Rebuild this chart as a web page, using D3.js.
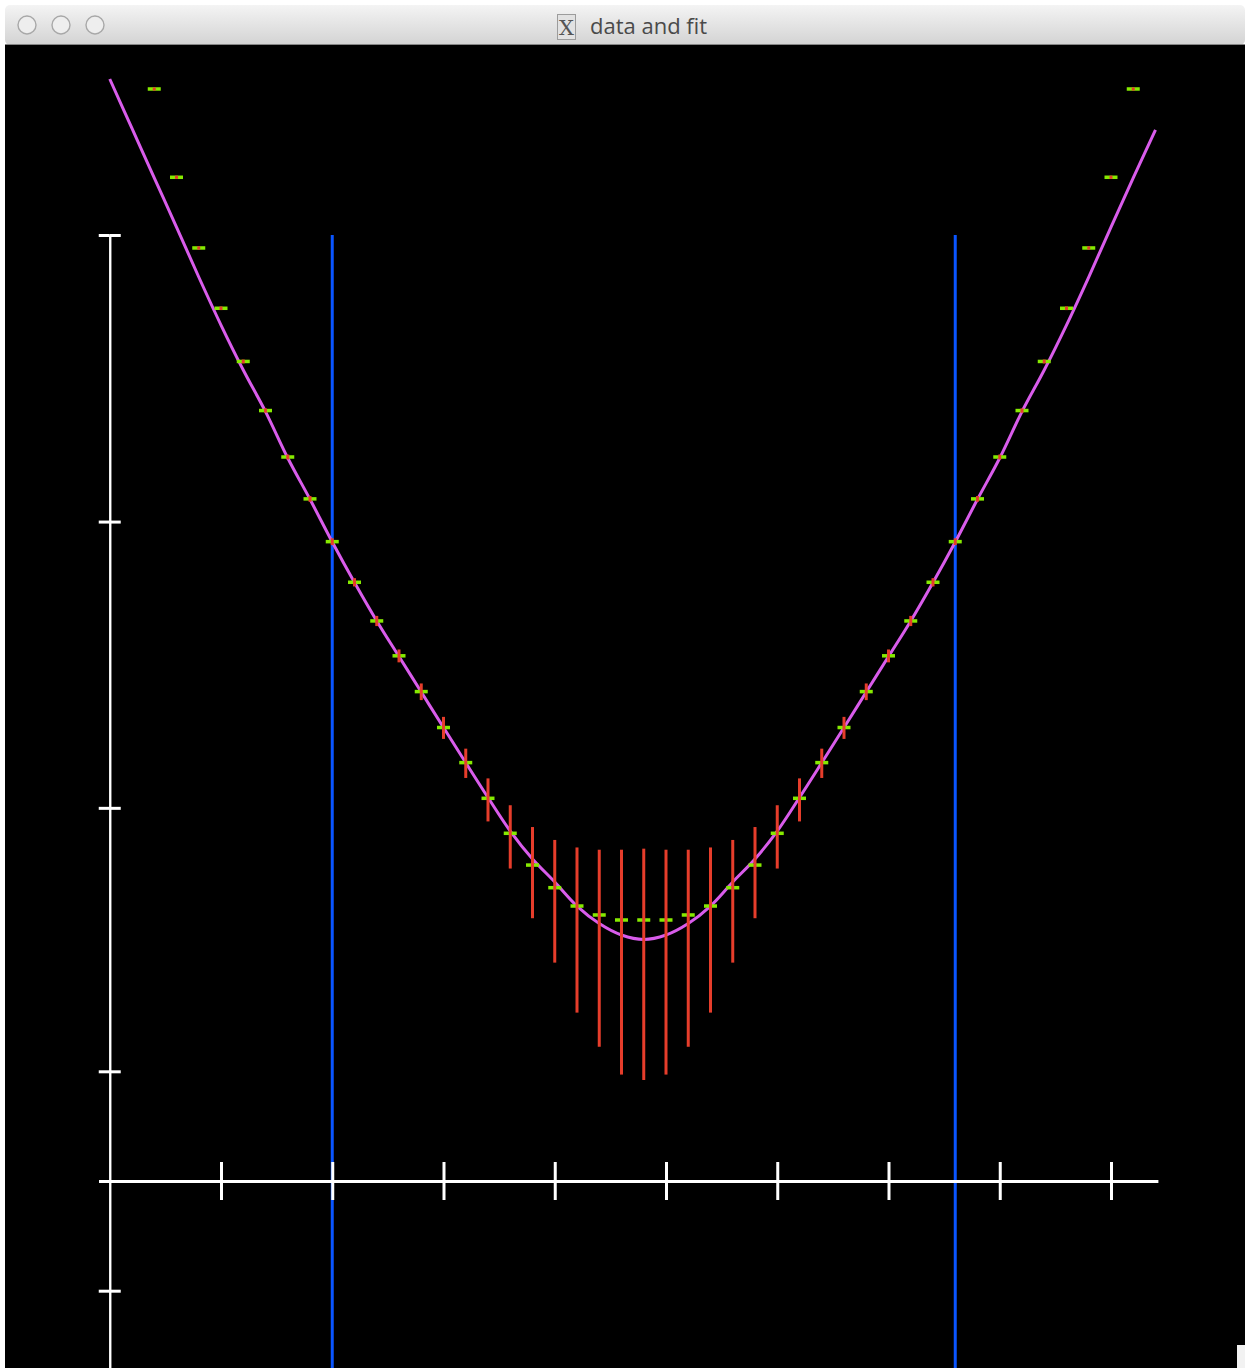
<!DOCTYPE html>
<html>
<head>
<meta charset="utf-8">
<title>data and fit</title>
<script src="https://cdn.jsdelivr.net/npm/d3@7"></script>
<style>
  html, body { margin: 0; padding: 0; background: #ffffff; }
  svg { display: block; }
</style>
</head>
<body>
<script>
// ---- measured data -------------------------------------------------------
const xData = [0.4, 0.6, 0.8, 1.0, 1.2, 1.4, 1.6, 1.8, 2.0, 2.2, 2.4, 2.6, 2.8, 3.0, 3.2,
               3.4, 3.6, 3.8, 4.0, 4.2, 4.4, 4.6, 4.8, 5.0, 5.2, 5.4, 5.6, 5.8, 6.0, 6.2,
               6.4, 6.6, 6.8, 7.0, 7.2, 7.4, 7.6, 7.8, 8.0, 8.2, 8.4, 8.6, 8.8, 9.0, 9.2];
const yData = [3232, 1590, 901, 555, 362, 244, 168, 120, 85.1, 61.4, 45.0, 34.0, 25.5, 19.1, 14.4,
               10.8, 8.14, 6.29, 5.23, 4.50, 4.18, 4.01, 4.01, 4.01, 4.18, 4.50, 5.23, 6.29, 8.14, 10.8,
               14.4, 19.1, 25.5, 34.0, 45.0, 61.4, 85.1, 120, 168, 244, 362, 555, 901, 1590, 3232];
const yErr  = [1.3, 1.3, 1.3, 1.3, 1.3, 1.3, 1.3, 1.3, 1.3, 1.3, 1.3, 1.35, 1.40, 1.46, 1.52,
               1.73, 1.95, 2.17, 2.39, 2.67, 2.86, 3.03, 3.09, 3.03, 2.86, 2.67, 2.39, 2.17, 1.95, 1.73,
               1.52, 1.46, 1.40, 1.35, 1.3, 1.3, 1.3, 1.3, 1.3, 1.3, 1.3, 1.3, 1.3, 1.3, 1.3];

// ---- fitted curve samples -----------------------------------------------
const fitX = [0.0, 0.2, 0.4, 0.6, 0.8, 1.0, 1.2, 1.4, 1.6, 1.8, 2.0, 2.2, 2.4, 2.6, 2.8, 3.0,
              3.2, 3.4, 3.6, 3.8, 4.0, 4.2, 4.4, 4.6, 4.8, 5.0, 5.2, 5.4, 5.6, 5.8, 6.0, 6.2,
              6.4, 6.6, 6.8, 7.0, 7.2, 7.4, 7.6, 7.8, 8.0, 8.2, 8.4, 8.6, 8.8, 9.0, 9.2, 9.4];
const fitY = [3502, 2355, 1583, 1066, 713.5, 485, 338, 242, 166.7, 119.6, 84.9, 61.3, 45.0, 33.8, 25.42, 19.1,
              14.39, 10.87, 8.29, 6.61, 5.48, 4.50, 3.895, 3.54, 3.41, 3.54, 3.895, 4.50, 5.48, 6.61, 8.29, 10.87,
              14.39, 19.1, 25.42, 33.8, 45.0, 61.3, 84.9, 119.6, 166.7, 242, 338, 485, 713.5, 1066, 1581, 2325];

// ---- boundary markers and axis ticks ------------------------------------
const markerX = [2.0, 7.6];
const xTicks = [1, 2, 3, 4, 5, 6, 7, 8, 9];
const yTicks = [-1, 1, 10, 100, 1000];
const windowTitle = "data and fit";

// ---- canvas -------------------------------------------------------------
const W = 1245, H = 1368;
const svg = d3.select("body").append("svg").attr("width", W).attr("height", H);
const defs = svg.append("defs");

const grad = defs.append("linearGradient").attr("id", "titleGrad")
  .attr("x1", 0).attr("y1", 0).attr("x2", 0).attr("y2", 1);
grad.append("stop").attr("offset", "0%").attr("stop-color", "#f4f4f4");
grad.append("stop").attr("offset", "100%").attr("stop-color", "#d3d3d3");

defs.append("clipPath").attr("id", "plotClip")
  .append("rect").attr("x", 5).attr("y", 45).attr("width", W - 5).attr("height", H - 45);

// window title bar
svg.append("rect").attr("x", 5).attr("y", 5).attr("width", W - 5).attr("height", 40)
  .attr("rx", 5).attr("fill", "url(#titleGrad)");
svg.append("line").attr("x1", 5).attr("x2", W).attr("y1", 44.5).attr("y2", 44.5)
  .attr("stroke", "#858585").attr("stroke-width", 1);

svg.append("g").selectAll("circle").data([27, 61, 95]).join("circle")
  .attr("cx", d => d).attr("cy", 25).attr("r", 9)
  .attr("fill", "#eeeeee").attr("stroke", "#a8a8a8").attr("stroke-width", 1.4);

svg.append("rect").attr("x", 557.5).attr("y", 14.5).attr("width", 18).attr("height", 25)
  .attr("fill", "#e2e2e2").attr("stroke", "#9c9c9c").attr("stroke-width", 1);
svg.append("text").attr("x", 566.5).attr("y", 35).attr("text-anchor", "middle")
  .attr("font-family", "'DejaVu Serif', 'Liberation Serif', serif").attr("font-size", 21)
  .attr("fill", "#555555").text("X");
svg.append("text").attr("x", 590).attr("y", 34)
  .attr("font-family", "'Open Sans', 'Liberation Sans', sans-serif").attr("font-size", 22)
  .attr("fill", "#4a4a4a").text(windowTitle);

// plot background
svg.append("rect").attr("x", 5).attr("y", 45).attr("width", W - 5).attr("height", H - 45)
  .attr("fill", "#000000");

// ---- scales -------------------------------------------------------------
const x = d3.scaleLinear().domain([-0.1, 9.42]).range([98.625, 1157.725]);
// vertical axis is linear in asinh(y)
const yT = d3.scaleLinear()
  .domain([Math.asinh(-20), Math.asinh(1000)])
  .range([1181 + 124.46 * Math.asinh(20), 1181 - 124.46 * Math.asinh(1000)]);
const y = v => yT(Math.asinh(v));

const plot = svg.append("g").attr("clip-path", "url(#plotClip)");

// boundary markers
plot.append("g").selectAll("line").data(markerX).join("line")
  .attr("x1", d => x(d)).attr("x2", d => x(d))
  .attr("y1", y(1000)).attr("y2", yT.range()[0])
  .attr("stroke", "#0a55ff").attr("stroke-width", 3);

// axes
function styleAxis(g, domainW, tickW) {
  g.select(".domain").attr("stroke", "#ffffff").attr("stroke-width", domainW);
  g.selectAll(".tick line").attr("stroke", "#ffffff").attr("stroke-width", tickW);
  g.selectAll(".tick text").remove();
}
const x0 = y(0);
plot.append("g").attr("transform", `translate(0,${x0})`)
  .call(d3.axisBottom(x).tickValues(xTicks).tickSize(19).tickSizeOuter(0).tickFormat(""))
  .call(g => styleAxis(g, 3, 3));
plot.append("g").attr("transform", `translate(0,${x0})`)
  .call(d3.axisTop(x).tickValues(xTicks).tickSize(19).tickSizeOuter(0).tickFormat(""))
  .call(g => styleAxis(g, 3, 3));

const y0 = x(0);
plot.append("g").attr("transform", `translate(${y0},0)`)
  .call(d3.axisLeft(yT).tickValues(yTicks.map(Math.asinh)).tickSize(11).tickSizeOuter(0).tickFormat(""))
  .call(g => styleAxis(g, 2, 3));
plot.append("g").attr("transform", `translate(${y0},0)`)
  .call(d3.axisRight(yT).tickValues(yTicks.map(Math.asinh)).tickSize(11).tickSizeOuter(0).tickFormat(""))
  .call(g => styleAxis(g, 2, 3));

// fitted curve
const fitPts = fitX.map((d, i) => [d, fitY[i]]);
plot.append("path").datum(fitPts)
  .attr("d", d3.line().x(d => x(d[0])).y(d => y(d[1])).curve(d3.curveCatmullRom.alpha(0.5)))
  .attr("fill", "none").attr("stroke", "#d95ceb").attr("stroke-width", 3)
  .attr("stroke-linejoin", "round");

// data points: dash marker with error bar
const pts = xData.map((d, i) => ({ x: d, y: yData[i], e: yErr[i] }));
plot.append("g").selectAll("rect").data(pts).join("rect")
  .attr("x", d => x(d.x) - 6.5).attr("y", d => y(d.y) - 1.75)
  .attr("width", 13).attr("height", 3.5)
  .attr("fill", "#86ea00");
plot.append("g").selectAll("line").data(pts).join("line")
  .attr("x1", d => x(d.x)).attr("x2", d => x(d.x))
  .attr("y1", d => y(d.y + d.e)).attr("y2", d => y(d.y - d.e))
  .attr("stroke", "#e63d2b").attr("stroke-width", 3).attr("stroke-linecap", "square");

// resize grip corner
svg.append("rect").attr("x", 1237).attr("y", 1345).attr("width", 8).attr("height", 23)
  .attr("fill", "#f2f2f2");
</script>
</body>
</html>
